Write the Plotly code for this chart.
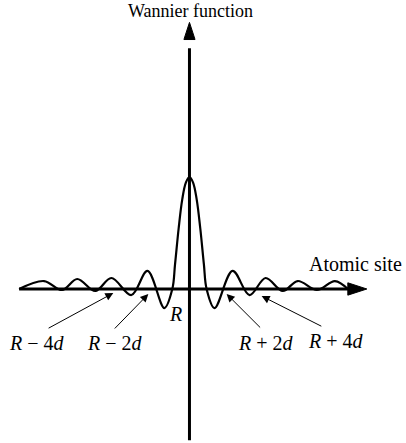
"""
Wannier function sketch: a decaying oscillation centred on the atomic site R
"""

import plotly.graph_objects as go

# curve (x in units along the atomic-site axis, y normalised to the peak)
wave_x = [-9.44, -8.06, -7.06, -6.22, -5.22, -4.33, -3.22, -2.33, -1.39, -0.95, -0.8, -0.6, -0.4, -0.2, 0.0,
          0.2, 0.4, 0.6, 0.8, 0.95, 1.39, 2.39, 3.33, 4.22, 5.17, 6.0, 7.06, 8.06, 8.78]
wave_y = [0.0, 0.071, -0.009, 0.089, -0.018, 0.098, -0.054, 0.161, -0.170, 0.0, 0.22, 0.54, 0.80, 0.95, 1.0,
          0.95, 0.80, 0.54, 0.22, 0.0, -0.170, 0.161, -0.054, 0.098, -0.018, 0.071, -0.009, 0.071, 0.0]

# axes extents
site_axis_x = [-9.44, 9.3]
wannier_axis_y = [-1.35, 2.15]

# labels along the site axis and where their arrows point
site_labels = ["<i>R</i> − 4<i>d</i>", "<i>R</i> − 2<i>d</i>", "<i>R</i> + 2<i>d</i>", "<i>R</i> + 4<i>d</i>"]
label_x = [-8.44, -4.11, 4.22, 8.11]
label_y = [-0.48, -0.48, -0.48, -0.46]
tail_x = [-7.89, -4.22, 4.0, 7.39]
tail_y = [-0.357, -0.366, -0.357, -0.339]
head_x = [-4.22, -2.28, 2.06, 4.0]
head_y = [-0.036, -0.045, -0.045, -0.063]

FONT = "Liberation Serif"

fig = go.Figure()

# axes
fig.add_trace(go.Scatter(
    x=site_axis_x, y=[0, 0], mode="lines",
    line={"color": "black", "width": 3}, hoverinfo="skip"
))
fig.add_trace(go.Scatter(
    x=[0, 0], y=wannier_axis_y, mode="lines",
    line={"color": "black", "width": 3}, hoverinfo="skip"
))
fig.add_trace(go.Scatter(
    x=[9.83, 0], y=[0, 2.38], mode="markers",
    marker={"symbol": "arrow", "size": [20, 18], "color": "#000000", "opacity": 1,
            "angle": [90, 0], "line": {"width": 1, "color": "#000000"}},
    opacity=1,
    hoverinfo="skip"
))

# the Wannier function
fig.add_trace(go.Scatter(
    x=wave_x, y=wave_y, mode="lines",
    line={"color": "black", "width": 2.2, "shape": "spline", "smoothing": 1.0},
    hoverinfo="skip"
))

for txt, lx, ly, tx, ty, hx, hy in zip(site_labels, label_x, label_y, tail_x, tail_y, head_x, head_y):
    fig.add_annotation(
        x=hx, y=hy, ax=tx, ay=ty, xref="x", yref="y", axref="x", ayref="y",
        text="", showarrow=True, arrowhead=2, arrowsize=1.6, arrowwidth=1, arrowcolor="black"
    )
    fig.add_annotation(
        x=lx, y=ly, text=txt, showarrow=False,
        font={"family": FONT, "size": 20, "color": "black"}
    )

fig.add_annotation(x=-0.78, y=-0.22, text="<i>R</i>", showarrow=False,
                   font={"family": FONT, "size": 20, "color": "black"})
fig.add_annotation(x=0.05, y=2.48, text="Wannier function", showarrow=False,
                   font={"family": FONT, "size": 18, "color": "black"})
fig.add_annotation(x=9.2, y=0.22, text="Atomic site", showarrow=False,
                   font={"family": FONT, "size": 20, "color": "black"})

fig.update_layout(
    width=406,
    height=443,
    margin={"l": 0, "r": 0, "t": 0, "b": 0},
    showlegend=False,
    paper_bgcolor="white",
    plot_bgcolor="white",
    xaxis={"range": [-10.5, 12.0], "visible": False, "fixedrange": True},
    yaxis={"range": [-1.375, 2.58], "visible": False, "fixedrange": True},
)

# drop the browser's default body margin so the figure sits at the page corner
fig.write_html("out.html", config={"displayModeBar": False},
               post_script="document.body.style.margin = '0';")
